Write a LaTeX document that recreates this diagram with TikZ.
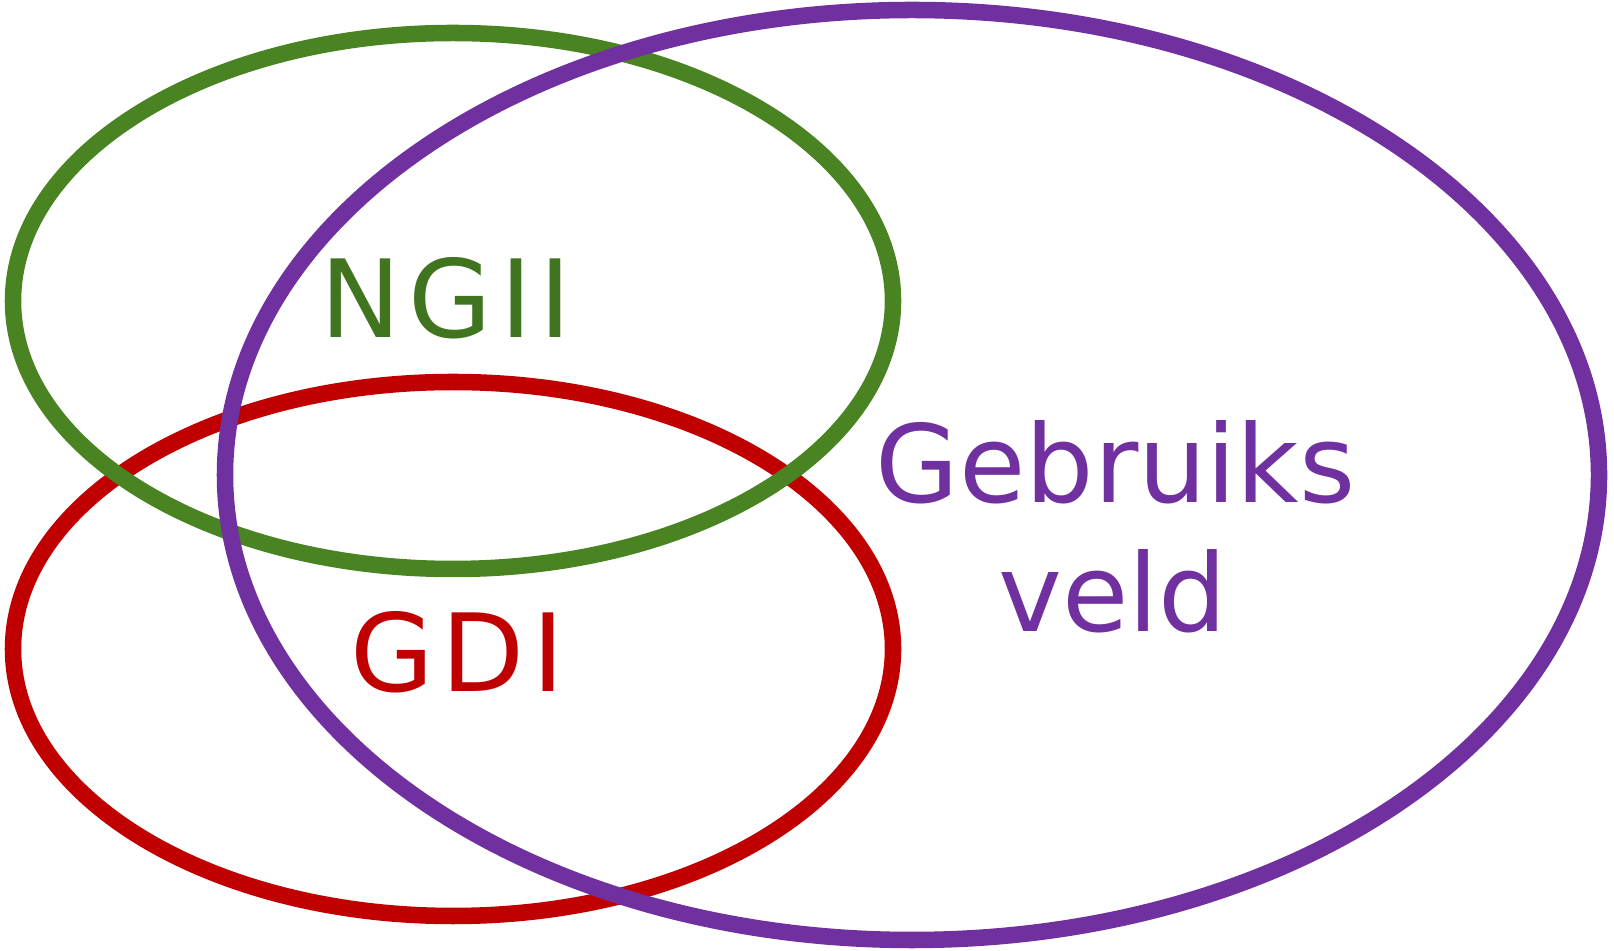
\documentclass[tikz,border=0pt]{standalone}
\usepackage{fontspec}
\setmainfont{DejaVu Sans}
\definecolor{ngiigreen}{HTML}{4A8322}
\definecolor{ngiitext}{HTML}{41741E}
\definecolor{gdired}{HTML}{C00000}
\definecolor{veldpurple}{HTML}{7030A0}
\tikzset{
  ring/.style={line width=4.7pt},
  label/.style={anchor=base,inner sep=0pt,font=\fontsize{30.7}{36}\selectfont},
  widelabel/.style={label,font=\fontsize{30.7}{36}\selectfont\addfontfeature{LetterSpace=7}}
}
\begin{document}
\begin{tikzpicture}
            \useasboundingbox (0,0) rectangle (16.14,-9.51);
            \draw[ring,gdired] (4.53,-6.49) ellipse [x radius=4.40cm, y radius=2.67cm];
            \draw[ring,ngiigreen] (4.53,-3.01) ellipse [x radius=4.40cm, y radius=2.68cm];
            \draw[ring,veldpurple] (9.12,-4.75) ellipse [x radius=6.87cm, y radius=4.65cm];
            \node[widelabel,ngiitext] (ngii) at (4.46,-3.38) {NGII};
            \node[widelabel,gdired] (gdi) at (4.57,-6.92) {GDI};
            \node[label,veldpurple] (gebruiks) at (11.155,-5.03) {Gebruiks};
            \node[label,veldpurple] (veld) at (11.125,-6.32) {veld};
        \end{tikzpicture}
\end{document}
